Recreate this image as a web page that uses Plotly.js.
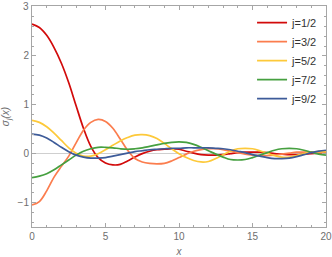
<!DOCTYPE html>
<html>
<head>
<meta charset="utf-8">
<script src="https://cdn.plot.ly/plotly-3.0.1.min.js"></script>
<style>html,body{margin:0;padding:0;background:#fff;}#chart{width:332px;height:257px;}</style>
</head>
<body>
<div id="chart"></div>
<script>
const xValues = [0,0.5,1,1.5,2,2.5,3,3.5,4,4.5,5,5.5,6,6.5,7,7.5,8,8.5,9,9.5,10,10.5,11,11.5,12,12.5,13,13.5,14,14.5,15,15.5,16,16.5,17,17.5,18,18.5,19,19.5,20];
const seriesNames = ["j=1/2","j=3/2","j=5/2","j=7/2","j=9/2"];
const sigmaJ1 = [2.65,2.58,2.42,2.17,1.85,1.45,0.98,0.52,0.15,-0.08,-0.19,-0.23,-0.22,-0.15,-0.07,0.0,0.05,0.08,0.09,0.1,0.09,0.05,0.01,-0.02,-0.03,-0.03,-0.02,0.0,0.02,0.03,0.03,0.03,0.02,0.0,-0.01,-0.02,-0.02,-0.01,0.0,0.01,0.02];
const sigmaJ3 = [-1.05,-0.98,-0.76,-0.48,-0.26,-0.05,0.22,0.48,0.64,0.70,0.66,0.52,0.3,0.07,-0.1,-0.17,-0.2,-0.21,-0.2,-0.15,-0.08,-0.01,0.05,0.08,0.1,0.1,0.08,0.05,0.02,-0.01,-0.03,-0.04,-0.04,-0.03,-0.01,0.01,0.03,0.03,0.03,0.02,0.01];
const sigmaJ5 = [0.68,0.64,0.55,0.42,0.27,0.12,0.01,-0.05,-0.05,0.0,0.08,0.17,0.26,0.33,0.38,0.39,0.37,0.31,0.21,0.1,0.0,-0.08,-0.14,-0.17,-0.16,-0.1,-0.02,0.05,0.1,0.11,0.1,0.06,0.01,-0.04,-0.07,-0.07,-0.04,0.0,0.03,0.04,0.04];
const sigmaJ7 = [-0.49,-0.46,-0.41,-0.33,-0.23,-0.13,-0.03,0.05,0.1,0.13,0.13,0.12,0.1,0.09,0.1,0.12,0.15,0.18,0.21,0.23,0.24,0.23,0.19,0.13,0.06,-0.01,-0.07,-0.12,-0.13,-0.12,-0.08,-0.03,0.02,0.07,0.1,0.11,0.1,0.07,0.03,-0.01,-0.03];
const sigmaJ9 = [0.4,0.38,0.32,0.23,0.13,0.04,-0.03,-0.07,-0.09,-0.09,-0.08,-0.05,-0.02,0.01,0.04,0.06,0.08,0.09,0.1,0.11,0.11,0.12,0.12,0.12,0.12,0.11,0.1,0.08,0.05,0.02,-0.02,-0.05,-0.08,-0.1,-0.1,-0.09,-0.06,-0.02,0.02,0.05,0.07];
const xTicks = [0,5,10,15,20];
const yTicks = [-1,0,1,2,3];
const colors = ["#d20a0a","#fb7d4e","#fdc93a","#46a040","#3d5b99"];

const tickFont = {family:'Liberation Sans, Arial, sans-serif', size:10, color:'#6e6e6e'};
const fmt = v => v<0 ? '\u2212'+Math.abs(v) : String(v);
const yTop = yTicks[yTicks.length-1];
const yAxisTicks = yTicks.slice(0,-1);

const allSeries = [sigmaJ1,sigmaJ3,sigmaJ5,sigmaJ7,sigmaJ9];
const traces = allSeries.map((ys,i)=>({
  x:xValues, y:ys, type:'scatter', mode:'lines', name:seriesNames[i],
  line:{color:colors[i], width:1.7, shape:'spline', smoothing:1}
}));

const axisCommon = {
  showline:true, linecolor:'#a6a6a6', linewidth:1, mirror:'ticks',
  ticks:'inside', ticklen:4, tickcolor:'#a6a6a6', tickwidth:1,
  ticklabeloverflow:'allow',
  showgrid:false, tickfont:tickFont
};

const layout = {
  width:332, height:257,
  margin:{l:32, r:6, t:6, b:30},
  paper_bgcolor:'#fff', plot_bgcolor:'#fff',
  showlegend:true,
  legend:{x:0.99, xanchor:'right', y:0.99, yanchor:'top', bgcolor:'rgba(0,0,0,0)',
    font:{family:'Liberation Sans, Arial, sans-serif', size:11, color:'#333'}, itemwidth:30, tracegroupgap:0},
  xaxis:Object.assign({}, axisCommon, {
    range:[0,20], tickvals:xTicks, ticktext:xTicks.map(String), zeroline:false,
    minor:{dtick:1, ticks:'inside', ticklen:2, tickcolor:'#a6a6a6'},
    title:{text:'<i>x</i>', font:tickFont, standoff:7}
  }),
  yaxis:Object.assign({}, axisCommon, {
    range:[-1.5,3.02], tickmode:'array', tickvals:yAxisTicks, ticktext:yAxisTicks.map(fmt),
    zeroline:true, zerolinecolor:'#cfcfcf', zerolinewidth:1,
    minor:{dtick:0.2, ticks:'inside', ticklen:2, tickcolor:'#a6a6a6'},
    title:{text:'<i>σ<sub>j</sub>(x)</i>', font:tickFont, standoff:6}
  }),
  annotations:[{
    xref:'paper', x:0, yref:'y', y:yTop, text:fmt(yTop), showarrow:false,
    xanchor:'right', yanchor:'middle', xshift:-2, font:tickFont, borderpad:0
  }]
};

Plotly.newPlot('chart', traces, layout, {staticPlot:true, displayModeBar:false});
</script>
</body>
</html>
